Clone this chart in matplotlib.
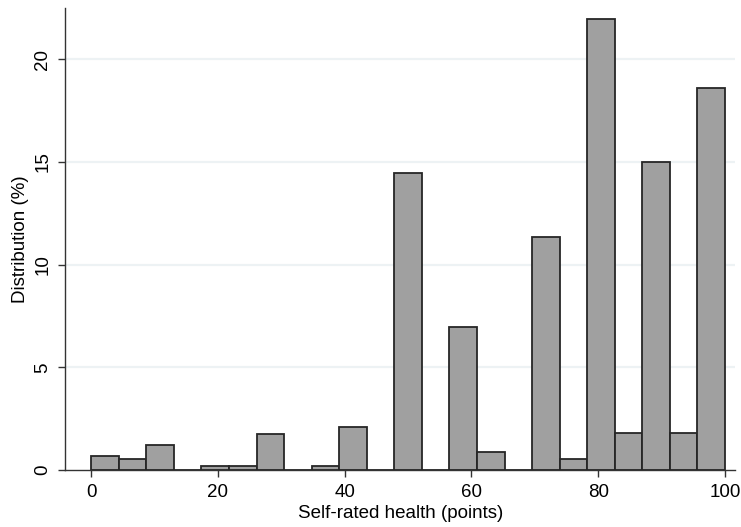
import matplotlib.pyplot as plt
import numpy as np

# percent of respondents per bin (23 equal bins over 0-100)
pct = [0.70, 0.54, 1.22, 0.0, 0.18, 0.18, 1.77, 0.0, 0.18, 2.08, 0.0, 14.47,
       0.0, 6.98, 0.86, 0.0, 11.33, 0.54, 21.95, 1.79, 14.98, 1.79, 18.62]
x_ticks = [0, 20, 40, 60, 80, 100]
y_ticks = [0, 5, 10, 15, 20]

plt.rcParams['font.family'] = ['Liberation Sans', 'DejaVu Sans']

edges = np.linspace(0, 100, len(pct) + 1)

fig = plt.figure(figsize=(7.41, 5.27), dpi=100)
ax = fig.add_axes([0.088, 0.108, 0.904, 0.877])

ax.bar(edges[:-1], pct, width=np.diff(edges), align='edge',
       color='#a0a0a0', edgecolor='#262626', linewidth=1.3, zorder=3)

ax.set_xlim(-4.1, 101.6)
ax.set_ylim(0, 22.5)
ax.set_xticks(x_ticks)
ax.set_yticks(y_ticks)
ax.set_yticklabels([str(v) for v in y_ticks], rotation=90, va='center')
ax.tick_params(labelsize=13.5, length=5, width=1, color='#333333', pad=5)

# light horizontal grid like the Stata scheme
for v in y_ticks[1:]:
    ax.axhline(v, color='#edf2f4', linewidth=1.6, zorder=1)

for side in ['top', 'right']:
    ax.spines[side].set_visible(False)
for side in ['left', 'bottom']:
    ax.spines[side].set_color('#333333')
    ax.spines[side].set_linewidth(1)

ax.set_xlabel('Self-rated health (points)', fontsize=13.5, labelpad=3)
ax.set_ylabel('Distribution (%)', fontsize=13.5, labelpad=4)

fig.savefig('out.png', dpi=100)
